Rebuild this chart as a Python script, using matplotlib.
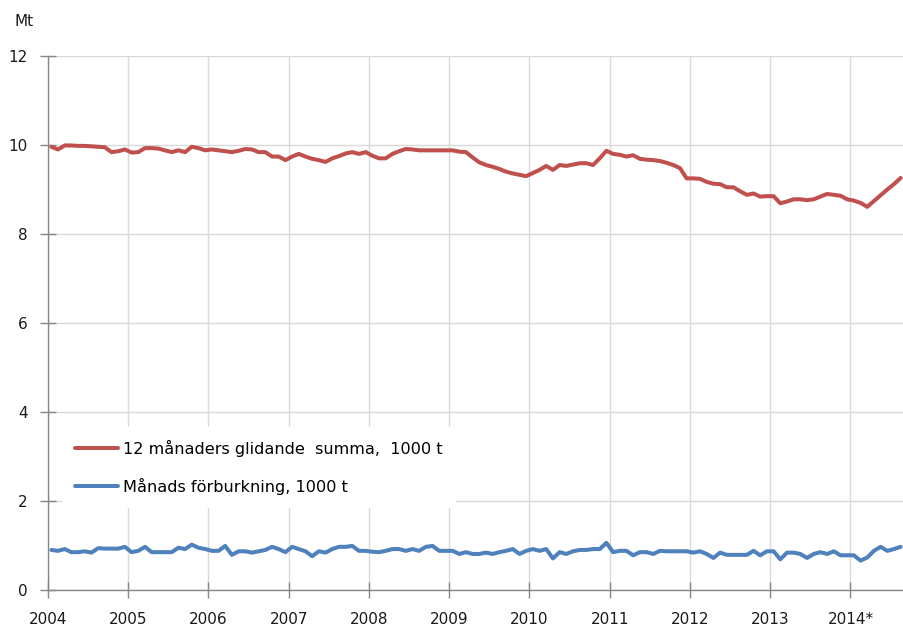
import matplotlib.pyplot as plt
import numpy as np

# månadsdata jan 2004 - aug 2014
years = ['2004', '2005', '2006', '2007', '2008', '2009', '2010', '2011', '2012', '2013', '2014*']

summa = [9.96, 9.90, 9.99, 9.99, 9.98, 9.98, 9.97, 9.96, 9.95, 9.84, 9.86, 9.90,
         9.83, 9.84, 9.93, 9.93, 9.92, 9.88, 9.84, 9.88, 9.84, 9.96, 9.93, 9.88,
         9.90, 9.88, 9.86, 9.84, 9.87, 9.91, 9.90, 9.84, 9.84, 9.74, 9.74, 9.66,
         9.74, 9.80, 9.74, 9.69, 9.66, 9.62, 9.70, 9.75, 9.81, 9.84, 9.80, 9.84,
         9.76, 9.70, 9.70, 9.80, 9.86, 9.91, 9.90, 9.88, 9.88, 9.88, 9.88, 9.88,
         9.88, 9.85, 9.84, 9.72, 9.61, 9.55, 9.51, 9.46, 9.40, 9.36, 9.33, 9.30,
         9.37, 9.44, 9.53, 9.44, 9.55, 9.53, 9.56, 9.59, 9.59, 9.55, 9.70, 9.87,
         9.80, 9.78, 9.74, 9.77, 9.69, 9.67, 9.66, 9.64, 9.60, 9.55, 9.48, 9.25,
         9.25, 9.24, 9.17, 9.13, 9.12, 9.05, 9.05, 8.96, 8.88, 8.91, 8.84, 8.85,
         8.85, 8.69, 8.73, 8.78, 8.78, 8.76, 8.78, 8.84, 8.90, 8.88, 8.86, 8.78,
         8.75, 8.70, 8.61, 8.74, 8.87, 9.00, 9.12, 9.26]

manad = [0.90, 0.88, 0.92, 0.85, 0.85, 0.87, 0.84, 0.94, 0.93, 0.93, 0.93, 0.97,
         0.85, 0.88, 0.97, 0.85, 0.85, 0.85, 0.85, 0.95, 0.92, 1.02, 0.95, 0.92,
         0.88, 0.88, 0.99, 0.79, 0.87, 0.87, 0.84, 0.87, 0.90, 0.97, 0.92, 0.85,
         0.97, 0.92, 0.87, 0.76, 0.87, 0.84, 0.92, 0.97, 0.97, 0.99, 0.88, 0.88,
         0.86, 0.85, 0.88, 0.92, 0.92, 0.88, 0.92, 0.88, 0.97, 0.99, 0.88, 0.88,
         0.88, 0.81, 0.85, 0.81, 0.81, 0.84, 0.81, 0.85, 0.88, 0.92, 0.81, 0.88,
         0.92, 0.88, 0.92, 0.71, 0.85, 0.81, 0.87, 0.90, 0.90, 0.92, 0.92, 1.06,
         0.85, 0.88, 0.88, 0.78, 0.85, 0.85, 0.81, 0.88, 0.87, 0.87, 0.87, 0.87,
         0.84, 0.87, 0.81, 0.72, 0.84, 0.79, 0.79, 0.79, 0.79, 0.88, 0.78, 0.87,
         0.87, 0.69, 0.84, 0.84, 0.81, 0.72, 0.81, 0.85, 0.81, 0.87, 0.78, 0.78,
         0.78, 0.66, 0.73, 0.88, 0.97, 0.88, 0.92, 0.97]

x = np.arange(len(summa)) + 0.5

fig = plt.figure(figsize=(9.04, 6.28), dpi=100)
ax = fig.add_axes([48 / 904, 38 / 628, 856 / 904, 534 / 628])

ax.plot(x, summa, color='#c0504d', lw=2.9, label='12 månaders glidande  summa,  1000 t',
        solid_capstyle='round', solid_joinstyle='round')
ax.plot(x, manad, color='#4f81bd', lw=2.9, label='Månads förburkning, 1000 t',
        solid_capstyle='round', solid_joinstyle='round')

ax.set_xlim(0, len(summa))
ax.set_ylim(0, 12)
ax.set_xticks(range(0, 121, 12))
ax.set_xticklabels(years)
ax.set_yticks(range(0, 13, 2))

ax.grid(True, color='#d9d9d9', lw=1)
ax.set_axisbelow(True)
for s in ['top', 'right']:
    ax.spines[s].set_visible(False)
for s in ['left', 'bottom']:
    ax.spines[s].set_color('#868686')
    ax.spines[s].set_linewidth(1)
ax.tick_params(axis='both', direction='inout', length=11, width=1, color='#868686',
               labelsize=11, labelcolor='#1a1a1a')
ax.tick_params(axis='x', pad=10)
ax.tick_params(axis='y', pad=9)

leg = ax.legend(loc='upper left', bbox_to_anchor=(0.0164, 0.305), fontsize=11.6,
                handlelength=2.7, handletextpad=0.3, labelspacing=1.3, borderpad=0.8,
                frameon=True, fancybox=False, borderaxespad=0)
leg.get_frame().set_facecolor('white')
leg.get_frame().set_edgecolor('none')
leg.get_frame().set_alpha(1)

fig.text(24 / 904, 1 - 21 / 628, 'Mt', ha='center', va='center', fontsize=11, color='#1a1a1a')

fig.savefig('out.png', dpi=100)
